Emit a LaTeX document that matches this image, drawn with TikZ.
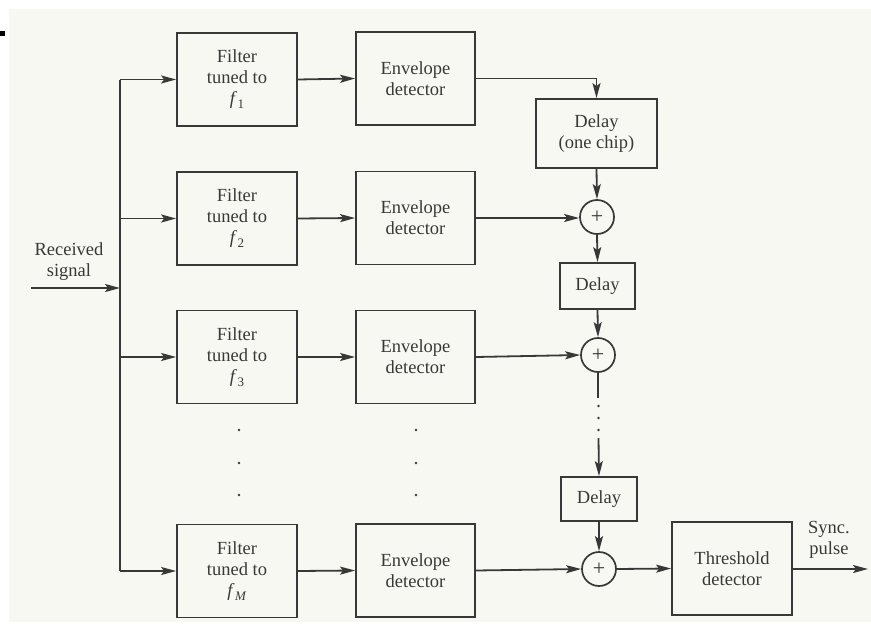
\documentclass[tikz,border=0pt]{standalone}
\usepackage{fontspec}
\setmainfont{Liberation Serif}
\usetikzlibrary{arrows.meta}
\definecolor{ink}{HTML}{383838}
\definecolor{paper}{HTML}{F8F8F3}
% italic frequency symbol with a lowered subscript
\newcommand{\freq}[1]{\textit{f}\kern0.5pt\raisebox{-0.45ex}{\fontsize{13}{13}\selectfont #1}}
\begin{document}
\begin{tikzpicture}[x=1pt,y=-1pt,
  every node/.style={font=\fontsize{18.5}{21}\selectfont, text=ink},
  blk/.style={draw=ink, line width=1.8pt, align=center, inner sep=0pt},
  bigblk/.style={blk, minimum width=120, minimum height=93},
  sumnode/.style={draw=ink, line width=1.7pt, circle, minimum size=34, inner sep=0pt, font=\fontsize{22}{22}\selectfont},
  wire/.style={draw=ink, line width=1.8pt},
  arr/.style={wire, -{Stealth[length=15pt,width=8pt,inset=3pt]}},
  dotmark/.style={fill=ink, draw=none}]
\useasboundingbox (0,0) rectangle (871,624);
\fill[white] (0,0) rectangle (871,624);
\fill[paper] (9,9) rectangle (871,622);
\fill[black] (0,31) rectangle (5,36);

% filter bank
\node[bigblk] (f1) at (237,79.5) {Filter\\tuned to\\\freq{1}};
\node[bigblk] (f2) at (237,218.5) {Filter\\tuned to\\\freq{2}};
\node[bigblk] (f3) at (237,357) {Filter\\tuned to\\\freq{3}};
\node[bigblk] (fM) at (237,571) {Filter\\tuned to\\\freq{\textit{M}}};

% envelope detectors
\node[bigblk, minimum width=119] (e1) at (415.5,78.5) {Envelope\\detector};
\node[bigblk, minimum width=119] (e2) at (415.5,218) {Envelope\\detector};
\node[bigblk, minimum width=119] (e3) at (415.5,357) {Envelope\\detector};
\node[bigblk, minimum width=119] (eM) at (415.5,570.5) {Envelope\\detector};

% delay and sum chain
\node[blk, minimum width=121, minimum height=69] (d1) at (596.5,133.5) {Delay\\(one chip)};
\node[sumnode] (s1) at (597,217) {+};
\node[blk, minimum width=75, minimum height=46] (d2) at (597.5,286) {Delay};
\node[sumnode] (s2) at (598,355) {+};
\node[blk, minimum width=76, minimum height=44] (d3) at (599,499) {Delay};
\node[sumnode] (s3) at (599,569) {+};
\node[bigblk] (th) at (732,568.5) {Threshold\\detector};

% input and output labels
\node[align=center] (rx) at (69,262) {Received\\signal};
\node[align=center] (sync) at (829,540) {Sync.\\pulse};
\coordinate (in) at (31,288);
\coordinate (split) at (120,288);
\coordinate (out) at (868,569);

% input trunk feeding every filter
\draw[arr] (in) -- (split);
\draw[wire] (120,79.5) -- (120,571);
\foreach \f in {f1,f2,f3,fM} \draw[arr] (120,0 |- \f.west) -- (\f.west);

% filters to envelope detectors
\foreach \i in {1,2,3,M} \draw[arr] (f\i.east) -- (e\i.west);

% envelope outputs into the chain
\draw[arr] (e1.east) -| (d1.north);
\draw[arr] (d1.south) -- (s1.north);
\draw[arr] (e2.east) -- (s1.west |- e2.east);
\draw[arr] (s1.south) -- (d2.north);
\draw[arr] (d2.south) -- (s2.north);
\draw[arr] (e3.east) -- (s2.west);
\draw[wire] (s2.south) -- (598,398);
\foreach \y in {406,418,430} \fill[dotmark] (598.5,\y) circle (1.4);
\draw[arr] (598.5,438) -- (d3.north);
\draw[arr] (d3.south) -- (s3.north);
\draw[arr] (eM.east) -- (s3.west);
\draw[arr] (s3.east) -- (th.west);
\draw[arr] (th.east |- out) -- (out);

% omitted branches
\foreach \y in {430,463,495} {
  \fill[dotmark] (239,\y) circle (1.4);
  \fill[dotmark] (416,\y) circle (1.4);
}
\end{tikzpicture}
\end{document}
